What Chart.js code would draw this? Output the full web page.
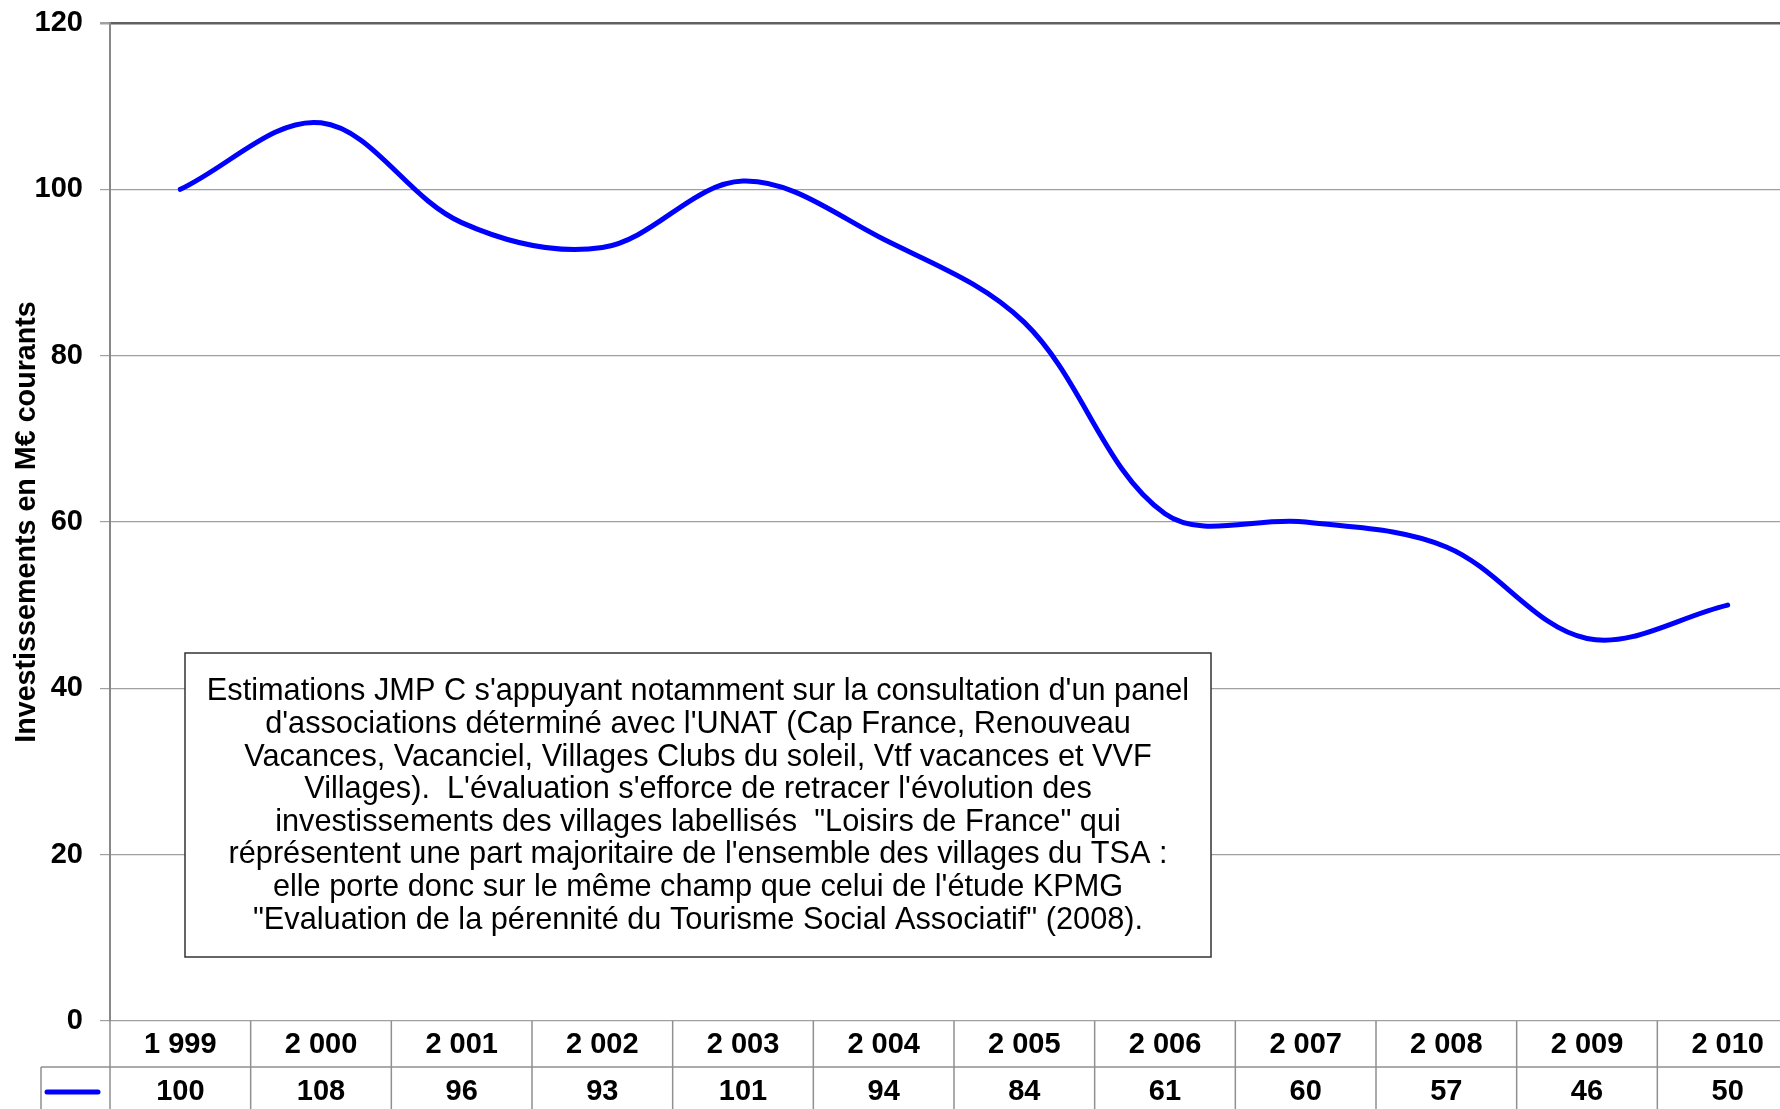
<!DOCTYPE html>
<html>
<head>
<meta charset="utf-8">
<script src="https://cdn.jsdelivr.net/npm/chart.js@4/dist/chart.umd.min.js"></script>
<style>
  html, body { margin: 0; padding: 0; background: #fff; overflow: hidden; }
  #wrap { position: absolute; left: 0; top: 0; width: 1800px; height: 1109px; }
</style>
</head>
<body>
<div id="wrap"><canvas id="lineChart" width="1800" height="1109"></canvas></div>
<script>
const annees = ['1 999', '2 000', '2 001', '2 002', '2 003', '2 004', '2 005', '2 006', '2 007', '2 008', '2 009', '2 010'];
const investissements = [100, 108, 96, 93, 101, 94, 84, 61, 60, 57, 46, 50];
const ticksY = [0, 20, 40, 60, 80, 100, 120];
const titreY = 'Investissements en M€ courants';
const noteLignes = [
  "Estimations JMP C s'appuyant notamment sur la consultation d'un panel",
  "d'associations déterminé avec l'UNAT (Cap France, Renouveau",
  "Vacances, Vacanciel, Villages Clubs du soleil, Vtf vacances et VVF",
  "Villages).  L'évaluation s'efforce de retracer l'évolution des",
  "investissements des villages labellisés  \"Loisirs de France\" qui",
  "réprésentent une part majoritaire de l'ensemble des villages du TSA :",
  "elle porte donc sur le même champ que celui de l'étude KPMG",
  "\"Evaluation de la pérennité du Tourisme Social Associatif\" (2008)."
];

const police = "'Liberation Sans', Arial, sans-serif";
const hauteurLigne = 46;

// tableau de données sous l'axe des X
const tableauPlugin = {
  id: 'tableau',
  afterDraw(chart) {
    const { ctx, chartArea, scales: { x } } = chart;
    const bas = chart.height + 5;
    const y0 = chartArea.bottom;
    const y1 = y0 + hauteurLigne;
    const colW = x.getPixelForValue(1) - x.getPixelForValue(0);

    ctx.save();
    ctx.strokeStyle = '#909090';
    ctx.lineWidth = 1.5;
    ctx.beginPath();
    for (let i = 0; i <= annees.length; i++) {
      const xx = x.getPixelForValue(0) - colW / 2 + i * colW;
      ctx.moveTo(xx, y0);
      ctx.lineTo(xx, bas);
    }
    ctx.moveTo(41, y1);
    ctx.lineTo(chart.width, y1);
    ctx.moveTo(41, y1);
    ctx.lineTo(41, bas);
    ctx.stroke();

    ctx.fillStyle = '#000';
    ctx.font = 'bold 29px ' + police;
    ctx.textAlign = 'center';
    ctx.textBaseline = 'middle';
    annees.forEach((a, i) => {
      const cx = x.getPixelForValue(i);
      ctx.fillText(a, cx, y0 + hauteurLigne / 2 + 1);
      ctx.fillText(String(investissements[i]), cx, y1 + hauteurLigne / 2 + 2);
    });

    // légende
    ctx.strokeStyle = '#0000FF';
    ctx.lineWidth = 5;
    ctx.lineCap = 'round';
    ctx.beginPath();
    ctx.moveTo(47, y1 + hauteurLigne / 2 + 2);
    ctx.lineTo(98, y1 + hauteurLigne / 2 + 2);
    ctx.stroke();
    ctx.restore();
  }
};

// encadré de texte
const notePlugin = {
  id: 'note',
  beforeDatasetsDraw(chart) {
    const { ctx } = chart;
    const gauche = 185, haut = 653, larg = 1026, haute = 304;
    ctx.save();
    ctx.fillStyle = '#fff';
    ctx.fillRect(gauche, haut, larg, haute);
    ctx.strokeStyle = '#333';
    ctx.lineWidth = 1.5;
    ctx.strokeRect(gauche, haut, larg, haute);
    ctx.fillStyle = '#000';
    ctx.font = '30.7px ' + police;
    ctx.textAlign = 'center';
    ctx.textBaseline = 'middle';
    noteLignes.forEach((l, i) => {
      ctx.fillText(l, gauche + larg / 2, 692 + i * 32.6);
    });
    ctx.restore();
  }
};

const ctx = document.getElementById('lineChart').getContext('2d');
new Chart(ctx, {
  type: 'line',
  data: {
    labels: annees,
    datasets: [{
      label: 'Investissements',
      data: investissements,
      borderColor: '#0000FF',
      borderWidth: 5,
      borderCapStyle: 'round',
      pointRadius: 0,
      tension: 0.35,
      fill: false
    }]
  },
  options: {
    responsive: false,
    animation: false,
    layout: { padding: { top: 23, right: 2, left: 0, bottom: 0 } },
    plugins: { legend: { display: false }, tooltip: { enabled: false } },
    scales: {
      x: {
        type: 'category',
        offset: true,
        grid: { display: false },
        border: { display: false },
        ticks: { display: false },
        afterFit(scale) { scale.height = 88; }
      },
      y: {
        min: 0,
        max: 120,
        afterBuildTicks(scale) { scale.ticks = ticksY.map(v => ({ value: v })); },
        ticks: {
          color: '#000',
          padding: 17,
          font: { family: police, size: 29, weight: 'bold' }
        },
        grid: {
          color: c => (c.tick && c.tick.value === 120 ? '#606060' : '#a0a0a0'),
          lineWidth: c => (c.tick && c.tick.value === 120 ? 2.5 : 1.2),
          tickColor: '#a0a0a0',
          tickLength: 10
        },
        border: { color: '#888', width: 2 },
        title: {
          display: true,
          text: titreY,
          color: '#000',
          padding: { top: 10, bottom: 0 },
          font: { family: police, size: 28.7, weight: 'bold' }
        },
        afterFit(scale) {
          scale.width = 110;
          scale.paddingTop = 0;
          scale.paddingBottom = 0;
        }
      }
    }
  },
  plugins: [notePlugin, tableauPlugin]
});
</script>
</body>
</html>
